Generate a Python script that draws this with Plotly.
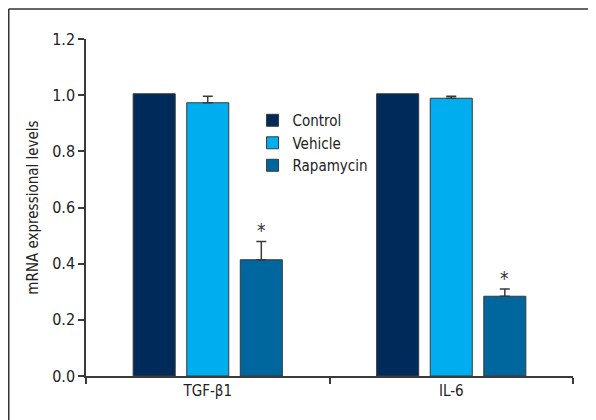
import plotly.graph_objects as go

categories = ["TGF-β1", "IL-6"]
series_names = ["Control", "Vehicle", "Rapamycin"]
control = [1.005, 1.005]
vehicle = [0.973, 0.989]
vehicle_err = [0.023, 0.007]
rapamycin = [0.414, 0.284]
rapamycin_err = [0.065, 0.026]
y_ticks = [0.0, 0.2, 0.4, 0.6, 0.8, 1.0, 1.2]

colors = ["#002a5a", "#00aeef", "#00679e"]
FONT = "Liberation Sans Narrow, Arial Narrow, DejaVu Sans Condensed, sans-serif"
EDGE = "#3a3a3a"

fig = go.Figure()
values = [control, vehicle, rapamycin]
errs = [None, vehicle_err, rapamycin_err]
for name, vals, err, col in zip(series_names, values, errs, colors):
    kw = {}
    if err is not None:
        kw["error_y"] = dict(type="data", array=err, arrayminus=[0] * len(err),
                             symmetric=False, color=EDGE, thickness=1.5, width=5)
    fig.add_trace(go.Bar(x=categories, y=vals, name=name,
                         marker=dict(color=col, line=dict(color=EDGE, width=1)),
                         **kw))

bargap = 0.34
slot = (1 - bargap) / 3
for i, (v, e) in enumerate(zip(rapamycin, rapamycin_err)):
    fig.add_annotation(x=i + slot, y=v + e, xref="x", yref="y", text="*",
                       showarrow=False, yanchor="bottom", yshift=-2,
                       font=dict(size=19, color="#333", family=FONT))

L, T, PW, PH = 78, 31, 487, 336.7
fig.update_layout(
    width=596, height=420,
    margin=dict(l=L, r=596 - L - PW, t=T, b=420 - T - PH, autoexpand=False),
    paper_bgcolor="white", plot_bgcolor="white",
    barmode="group", bargap=bargap, bargroupgap=0.215,
    font=dict(family=FONT, size=15, color="#222"),
    showlegend=True,
    legend=dict(x=0.342, y=0.807, xanchor="left", yanchor="top",
                bgcolor="rgba(0,0,0,0)", font=dict(size=15, family=FONT),
                tracegroupgap=0),
    xaxis=dict(showline=True, linecolor=EDGE, linewidth=1.5, ticks="outside",
               tickson="boundaries", ticklen=6, tickcolor=EDGE, tickwidth=1.5,
               showgrid=False, tickfont=dict(size=15), zeroline=False, automargin=False),
    yaxis=dict(range=[0, 1.2], tickvals=y_ticks, ticktext=[f"{t:.1f}" for t in y_ticks],
               showline=True, linecolor=EDGE, linewidth=1.5, ticks="outside",
               ticklen=6, tickcolor=EDGE, tickwidth=1.5, showgrid=False,
               zeroline=False, tickfont=dict(size=16), automargin=False,
               title=dict(text="mRNA expressional levels", font=dict(size=15), standoff=10)),
)

bx = (0.75 - L) / PW
by = 1 + (T - 1.0) / PH
fig.add_shape(type="line", xref="paper", yref="paper", x0=bx, x1=1.2, y0=by, y1=by,
              line=dict(color="#333", width=1.5))
fig.add_shape(type="line", xref="paper", yref="paper", x0=bx, x1=bx, y0=by, y1=-0.3,
              line=dict(color="#333", width=1.5))

fig.write_html("out.html")
